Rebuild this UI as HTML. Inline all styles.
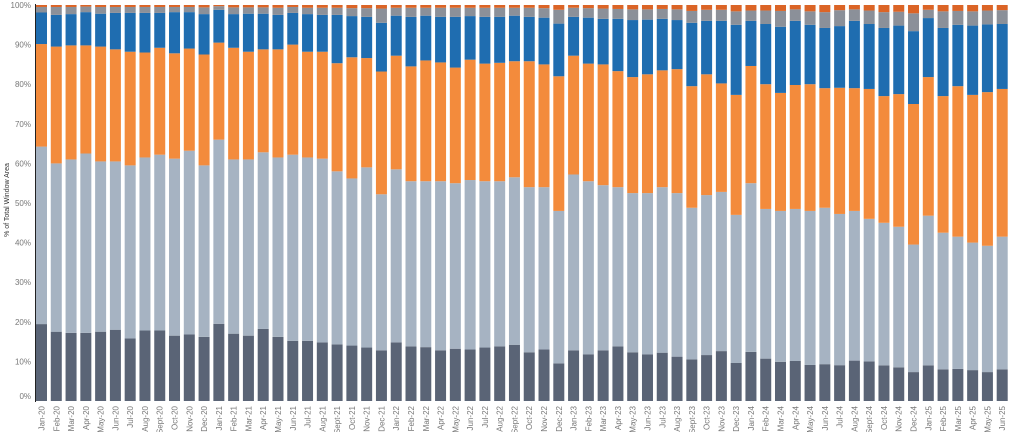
<!DOCTYPE html>
<html><head><meta charset="utf-8">
<style>
html,body{margin:0;padding:0;background:#fff;}
svg{display:block;font-family:"Liberation Sans",sans-serif;}
</style></head>
<body>
<svg id="chart" width="1010" height="432" viewBox="0 0 1010 432" xmlns="http://www.w3.org/2000/svg">
<text x="0" y="0" transform="translate(9,200) rotate(-90)" font-size="7" fill="#333" text-anchor="middle">% of Total Window Area</text>
<g id="yticks"></g>
<g id="bars"></g>
<g id="xlabels"></g>
<line x1="35.5" y1="4" x2="35.5" y2="402" stroke="#222" stroke-width="1"/>
</svg>
<script>
const categories = ["Jan-20","Feb-20","Mar-20","Apr-20","May-20","Jun-20","Jul-20","Aug-20","Sept-20","Oct-20","Nov-20","Dec-20","Jan-21","Feb-21","Mar-21","Apr-21","May-21","Jun-21","Jul-21","Aug-21","Sept-21","Oct-21","Nov-21","Dec-21","Jan-22","Feb-22","Mar-22","Apr-22","May-22","Jun-22","Jul-22","Aug-22","Sept-22","Oct-22","Nov-22","Dec-22","Jan-23","Feb-23","Mar-23","Apr-23","May-23","Jun-23","Jul-23","Aug-23","Sept-23","Oct-23","Nov-23","Dec-23","Jan-24","Feb-24","Mar-24","Apr-24","May-24","Jun-24","Jul-24","Aug-24","Sept-24","Oct-24","Nov-24","Dec-24","Jan-25","Feb-25","Mar-25","Apr-25","May-25","Jun-25"];
const darkSeries = [19.5,17.5,17.2,17.2,17.5,18,15.8,17.8,17.8,16.5,16.8,16.2,19.5,17,16.5,18.2,16.2,15.2,15.2,14.8,14.3,14,13.5,12.8,14.8,13.8,13.6,12.8,13.2,13,13.5,13.8,14.2,12.3,13,9.5,12.8,11.8,12.8,13.8,12.3,11.8,12.2,11.2,10.5,11.6,12.6,9.6,12.4,10.7,9.9,10.1,9.1,9.3,9,10.2,10,9,8.5,7.3,9,8,8.1,7.8,7.3,8];
const lightSeries = [45,42.5,43.8,45.3,43,42.5,43.7,43.7,44.4,44.7,46.4,43.3,46.5,44,44.5,44.6,45.3,47,46.3,46.4,43.7,42.2,45.5,39.4,43.7,41.7,41.9,42.7,41.8,42.8,42,41.7,42.3,41.7,41,38.5,44.4,43.7,41.7,40.2,40.2,40.7,41.8,41.3,38.3,40.4,40.2,37.4,42.6,37.8,38.1,38.4,38.9,39.5,38,37.8,36,36,35.5,32.2,37.8,34.5,33.4,32.2,31.9,33.5];
const orangeSeries = [26,29.5,28.8,27.3,29,28.3,28.7,26.5,27,26.6,25.8,28,24.5,28.2,27.2,26,27.3,27.8,26.7,27,27.3,30.6,27.6,31,28.7,29,30.5,30,29.2,30.4,29.7,29.9,29.3,31.8,31,34,30,29.7,30.5,29.3,29.3,30,29.5,31.3,30.7,30.5,27.4,30.3,29.6,31.5,29.8,31.3,32,30.2,31.7,31,32.8,32,33.5,35.5,35,34.5,38,37.3,38.8,37.3];
const blueSeries = [8,8,7.9,8.4,8.3,9.2,9.8,10,8.8,10.4,9.2,10.2,8.3,8.5,9.6,9,8.7,8,9.5,9.3,12.2,10.4,10.4,12.3,10.1,12.5,11.3,11.5,12.8,11,11.8,11.6,11.5,11.2,11.8,13.3,9.8,11.6,11.5,13.2,14.4,13.8,13,12.4,16,13.5,15.8,17.7,11.4,15.2,16.7,16.2,15,15.2,15.5,17,16.4,17.2,17.3,18.4,14.9,17.2,15.5,17.5,17.1,16.4];
const graySeries = [1.4,2,1.8,1.4,1.7,1.5,1.5,1.5,1.5,1.3,1.3,1.7,0.9,1.7,1.6,1.6,1.8,1.5,1.6,1.8,1.8,2,2.2,3.6,2,2.3,2,2.3,2.3,2.1,2.3,2.3,2,2.3,2.4,3.5,2.3,2.4,2.6,2.5,2.7,2.6,2.5,2.7,3,2.8,2.8,3.4,2.6,3.4,4,2.9,3.4,4,4,2.9,3.4,4,3.5,4.5,2.1,4.2,3.5,3.6,3.5,3.5];
const redSeries = [0.5,0.5,0.5,0.4,0.5,0.5,0.5,0.5,0.5,0.5,0.5,0.6,0.3,0.6,0.6,0.6,0.7,0.5,0.7,0.7,0.7,0.8,0.8,0.9,0.7,0.7,0.7,0.7,0.7,0.7,0.7,0.7,0.7,0.7,0.8,1.2,0.7,0.8,0.9,1,1.1,1.1,1,1.1,1.5,1.2,1.2,1.6,1.4,1.4,1.5,1.1,1.6,1.8,1.3,1.1,1.4,1.8,1.7,2.1,1.2,1.6,1.5,1.6,1.4,1.3];
const yTicks = [0,10,20,30,40,50,60,70,80,90,100];

const seriesList = [darkSeries, lightSeries, orangeSeries, blueSeries, graySeries, redSeries];
const seriesNames = ["dark","light","orange","blue","gray","red"];
const seriesColors = ["#5a6476","#a6b3c2","#f38b3c","#1f6db0","#8b9099","#db6426"];

const NS = "http://www.w3.org/2000/svg";
const Y0 = 401, Y100 = 5;
function yScale(v){ return Y0 - (Y0 - Y100) * v / 100; }
const X0 = 36, STEP = 14.78, BW = 11;
function xScale(i){ return X0 + i * STEP; }

const yg = document.getElementById('yticks');
yTicks.forEach(t => {
  const tx = document.createElementNS(NS,'text');
  
  
  tx.setAttribute('x', 31);
  tx.setAttribute('y', Math.min(yScale(t) + 3, 399));
  tx.setAttribute('font-size', '8');
  tx.setAttribute('fill', '#777');
  tx.setAttribute('text-anchor', 'end');
  tx.textContent = t + '%';
  yg.appendChild(tx);
});

const bg = document.getElementById('bars');
categories.forEach((c, i) => {
  const vals = seriesList.map(s => s[i]);
  const total = vals.reduce((a,b)=>a+b,0);
  let cum = 0;
  vals.forEach((v, k) => {
    const p0 = cum / total * 100;
    cum += v;
    const p1 = cum / total * 100;
    const r = document.createElementNS(NS,'rect');
    
    
    r.setAttribute('x', xScale(i));
    r.setAttribute('width', BW);
    r.setAttribute('y', yScale(p1));
    r.setAttribute('height', Math.max(0, yScale(p0) - yScale(p1)));
    r.setAttribute('fill', seriesColors[k]);
    bg.appendChild(r);
  });
  const lb = document.createElementNS(NS,'text');
  
  
  const cx = xScale(i) + BW/2 + 3;
  lb.setAttribute('transform', 'translate(' + cx + ',406) rotate(-90)');
  lb.setAttribute('font-size', '8');
  lb.setAttribute('fill', '#777');
  lb.setAttribute('text-anchor', 'end');
  lb.textContent = c;
  document.getElementById('xlabels').appendChild(lb);
});
</script>
</body></html>
